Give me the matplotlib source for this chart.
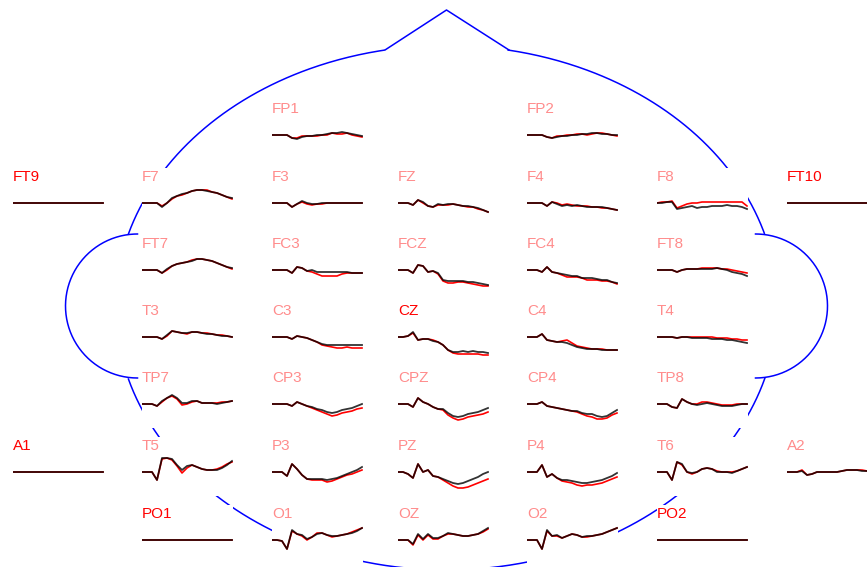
import numpy as np
import matplotlib.pyplot as plt

# sample times (ms) for every averaged trace
times = np.arange(-100, 801, 50)

# amplitudes (uV, positive up), condition 1 = black, condition 2 = red
flat = [0, 0, 0, 0, 0, 0, 0, 0, 0, 0, 0, 0, 0, 0, 0, 0, 0, 0, 0]

fp1_k = [0, 0, 0, 0, -3, -4, -2, -1, -1, 0, 0, 1, 2, 2, 3, 2, 1, 0, -1]
fp1_r = [0, 0, 0, 0, -3, -3, -1, -1, -1, -1, 0, 0, 2, 1, 1, 2, 0, -1, -2]
fp2_k = [0, 0, 0, 0, -2, -3, -2, -1, -1, 0, 0, 1, 1, 2, 2, 1, 1, 0, 0]
fp2_r = [0, 0, 0, 0, -2, -3, -1, -1, 0, 0, 1, 1, 0, 1, 2, 2, 1, 0, -1]

f7_k = [0, 0, 0, 0, -4, 0, 5, 7, 9, 10, 12, 13, 13, 12, 11, 10, 8, 6, 5]
f7_r = [0, 0, 0, 0, -3, 0, 4, 7, 8, 10, 12, 13, 13, 13, 11, 10, 8, 6, 4]
f3_k = [0, 0, 0, 0, -4, -1, 2, 0, -1, -1, 0, 0, 0, 0, 0, 0, 0, 0, 0]
f3_r = [0, 0, 0, 0, -4, -1, 1, -1, -2, -1, -1, 0, 0, 0, 0, 0, 0, 0, 0]
fz_k = [0, 0, 0, -2, 3, 1, -3, -4, -1, -2, -1, -1, -2, -3, -3, -4, -5, -7, -9]
fz_r = [0, 0, 0, -2, 3, 0, -3, -4, -2, -2, -2, -1, -2, -3, -4, -4, -6, -7, -9]
f4_k = [0, 0, 0, 0, -3, 1, -1, -3, -2, -3, -2, -3, -4, -4, -4, -4, -5, -6, -7]
f4_r = [0, 0, 0, 0, -3, 1, 0, -2, -1, -2, -3, -3, -3, -4, -4, -5, -5, -6, -7]
f8_k = [0, 0, 1, 1, -6, -5, -4, -3, -5, -4, -4, -3, -3, -3, -2, -3, -3, -4, -6]
f8_r = [0, 1, 1, 2, -5, -3, -1, 0, 0, 1, 1, 1, 1, 1, 1, 1, 1, 1, -3]

ft7_k = [0, 0, 0, 0, -3, 1, 4, 6, 7, 8, 9, 11, 11, 10, 9, 7, 5, 3, 2]
ft7_r = [0, 0, 0, 0, -3, 0, 4, 6, 7, 8, 10, 11, 11, 10, 9, 7, 5, 3, 1]
fc3_k = [0, 0, 0, 0, -3, 3, 2, -1, 0, -2, -2, -2, -2, -2, -2, -2, -3, -3, -3]
fc3_r = [0, 0, 0, 0, -3, 3, 2, -1, -2, -4, -6, -6, -6, -6, -4, -3, -3, -3, -3]
fcz_k = [0, 0, 0, -3, 5, 4, -2, -1, -3, -10, -11, -11, -11, -11, -12, -12, -13, -14, -15]
fcz_r = [0, 0, 0, -3, 5, 4, -2, -1, -4, -11, -13, -13, -12, -12, -13, -14, -15, -16, -16]
fc4_k = [0, 0, 0, -2, 3, -2, -3, -4, -5, -6, -6, -8, -8, -8, -9, -10, -10, -12, -13]
fc4_r = [0, 0, 0, -2, 3, -2, -3, -5, -7, -7, -7, -8, -10, -10, -10, -11, -11, -12, -14]
ft8_k = [0, 0, 0, 0, -2, 0, 1, 1, 1, 1, 1, 1, 2, 1, 0, -2, -3, -4, -6]
ft8_r = [0, 0, 0, 0, -2, 0, 1, 1, 1, 2, 2, 2, 2, 1, 1, 0, -1, -2, -3]

t3_k = [0, 0, 0, 0, -2, 2, 6, 5, 4, 4, 5, 5, 4, 3, 3, 2, 1, 1, 0]
t3_r = [0, 0, 0, 0, -2, 1, 6, 5, 4, 3, 5, 5, 4, 4, 3, 2, 2, 1, 0]
c3_k = [0, 0, 0, 0, -2, 1, 0, -1, -3, -5, -7, -8, -8, -8, -8, -8, -8, -8, -8]
c3_r = [0, 0, 0, 0, -2, 1, 0, -1, -3, -5, -8, -9, -10, -11, -11, -10, -11, -11, -11]
cz_k = [0, 0, 1, 5, -3, -2, -2, -4, -5, -8, -13, -15, -15, -14, -15, -14, -15, -15, -16]
cz_r = [0, 0, 1, 4, -3, -2, -2, -3, -5, -8, -13, -16, -17, -17, -17, -17, -17, -18, -18]
c4_k = [0, 0, 0, 3, -3, -4, -5, -5, -6, -8, -10, -11, -12, -12, -12, -13, -13, -13, -13]
c4_r = [0, 0, 0, 3, -3, -4, -5, -4, -3, -6, -9, -10, -11, -12, -12, -12, -13, -13, -13]
t4_k = [0, 0, 0, 0, -1, 0, 0, -1, -1, -1, -1, -2, -2, -2, -3, -3, -4, -5, -6]
t4_r = [0, 0, 0, 0, -1, 0, 0, 0, 0, 0, 0, 0, -1, -1, -1, -2, -2, -3, -3]

tp7_k = [0, 0, 0, -2, 3, 6, 9, 6, 1, 1, 3, 3, 1, 1, 1, 0, 1, 2, 3]
tp7_r = [0, 0, 0, -2, 2, 6, 8, 5, -1, 0, 2, 3, 1, 1, 1, 1, 2, 2, 3]
cp3_k = [0, 0, 0, 0, -2, 2, 0, -2, -3, -5, -6, -8, -9, -8, -6, -5, -4, -2, 0]
cp3_r = [0, 0, 0, 0, -2, 2, 0, -2, -4, -6, -8, -10, -12, -11, -9, -8, -7, -5, -4]
cpz_k = [0, 0, 0, -3, 6, 2, 0, -3, -5, -5, -9, -12, -13, -12, -10, -9, -8, -6, -4]
cpz_r = [0, 0, 0, -3, 6, 2, 0, -3, -5, -6, -11, -14, -16, -15, -13, -12, -11, -10, -8]
cp4_k = [0, 0, 0, 2, -2, -3, -4, -5, -6, -7, -7, -9, -10, -10, -12, -13, -12, -9, -6]
cp4_r = [0, 0, 0, 2, -2, -3, -4, -5, -6, -7, -8, -10, -12, -13, -15, -15, -14, -11, -9]
tp8_k = [0, 0, 0, -3, -4, 5, 2, 0, -1, 0, 1, 0, -1, -2, -2, -2, -1, 0, 0]
tp8_r = [0, 0, 0, -3, -4, 5, 2, 0, 0, 2, 2, 1, 0, -1, -1, -1, 0, 0, 0]

t5_k = [0, 0, 0, -8, 14, 14, 13, 7, 2, 6, 7, 5, 3, 2, 2, 2, 4, 7, 11]
t5_r = [0, 0, 0, -8, 13, 14, 12, 6, -1, 4, 7, 5, 3, 2, 2, 3, 5, 8, 10]
p3_k = [0, 0, 0, -4, 8, 3, -3, -7, -7, -7, -7, -8, -7, -6, -4, -2, 0, 2, 5]
p3_r = [0, 0, 0, -4, 8, 3, -3, -7, -8, -8, -8, -10, -9, -7, -5, -3, -2, 0, 2]
pz_k = [0, 0, -2, -6, 8, 0, 2, -4, -5, -7, -9, -11, -12, -11, -9, -7, -5, -2, 0]
pz_r = [0, 0, -2, -6, 8, 0, 2, -4, -5, -8, -11, -14, -16, -16, -15, -13, -11, -9, -7]
p4_k = [0, 0, 0, 7, -5, -2, -6, -8, -8, -9, -10, -11, -11, -10, -9, -8, -6, -4, -1]
p4_r = [0, 0, 0, 7, -5, -2, -6, -9, -10, -11, -13, -14, -13, -13, -12, -11, -9, -7, -5]
t6_k = [0, 0, 0, -8, 10, 8, 0, -1, 0, 3, 4, 3, 0, 0, 0, -1, 1, 3, 5]
t6_r = [0, 0, 0, -8, 10, 7, 0, -2, 0, 3, 4, 3, 1, 0, 0, 0, 1, 3, 5]
a2_k = [0, 0, 0, 1, -3, -2, 0, 0, 0, 0, 0, 1, 2, 2, 2, 1, 1, 1, 1]
a2_r = [0, 0, 0, 2, -3, -2, 0, 0, 0, 0, 0, 1, 2, 2, 2, 2, 1, 1, 1]

o1_k = [0, 0, -1, -9, 10, 6, 5, 1, 3, 6, 7, 5, 4, 4, 5, 6, 7, 9, 12]
o1_r = [0, 0, -1, -9, 9, 6, 4, 0, 3, 7, 7, 5, 3, 4, 5, 6, 8, 10, 12]
oz_k = [0, 0, 0, -4, 6, 1, 6, 2, 2, 4, 7, 6, 5, 4, 4, 5, 6, 9, 12]
oz_r = [0, 0, 0, -5, 5, 0, 5, 1, 1, 4, 6, 6, 5, 4, 4, 5, 6, 8, 11]
o2_k = [0, 0, 0, -9, 10, 4, 5, 2, 4, 6, 5, 3, 4, 4, 5, 6, 8, 10, 12]
o2_r = [0, 0, 0, -9, 9, 4, 4, 2, 4, 6, 5, 3, 3, 4, 5, 6, 8, 10, 12]

# channel name, row, column, black trace, red trace
montage = [
    ('FP1', 0, 2, fp1_k, fp1_r), ('FP2', 0, 4, fp2_k, fp2_r),
    ('FT9', 1, 0, flat, flat), ('F7', 1, 1, f7_k, f7_r), ('F3', 1, 2, f3_k, f3_r),
    ('FZ', 1, 3, fz_k, fz_r), ('F4', 1, 4, f4_k, f4_r), ('F8', 1, 5, f8_k, f8_r),
    ('FT10', 1, 6, flat, flat),
    ('FT7', 2, 1, ft7_k, ft7_r), ('FC3', 2, 2, fc3_k, fc3_r), ('FCZ', 2, 3, fcz_k, fcz_r),
    ('FC4', 2, 4, fc4_k, fc4_r), ('FT8', 2, 5, ft8_k, ft8_r),
    ('T3', 3, 1, t3_k, t3_r), ('C3', 3, 2, c3_k, c3_r), ('CZ', 3, 3, cz_k, cz_r),
    ('C4', 3, 4, c4_k, c4_r), ('T4', 3, 5, t4_k, t4_r),
    ('TP7', 4, 1, tp7_k, tp7_r), ('CP3', 4, 2, cp3_k, cp3_r), ('CPZ', 4, 3, cpz_k, cpz_r),
    ('CP4', 4, 4, cp4_k, cp4_r), ('TP8', 4, 5, tp8_k, tp8_r),
    ('A1', 5, 0, flat, flat), ('T5', 5, 1, t5_k, t5_r), ('P3', 5, 2, p3_k, p3_r),
    ('PZ', 5, 3, pz_k, pz_r), ('P4', 5, 4, p4_k, p4_r), ('T6', 5, 5, t6_k, t6_r),
    ('A2', 5, 6, a2_k, a2_r),
    ('PO1', 6, 1, flat, flat), ('O1', 6, 2, o1_k, o1_r), ('OZ', 6, 3, oz_k, oz_r),
    ('O2', 6, 4, o2_k, o2_r), ('PO2', 6, 5, flat, flat),
]
marked = ['FT9', 'FT10', 'A1', 'CZ', 'PO1', 'PO2']

W, H = 867, 567
col_x = [13, 142, 272, 398, 527, 657, 787]
row_y = [135, 203, 270, 337, 404, 472, 540]
ax_w, above, below = 91, 35, 24

fig = plt.figure(figsize=(W / 100, H / 100), dpi=100)
plt.rcParams['font.family'] = ['Liberation Sans', 'DejaVu Sans']

# head outline in pixel space, behind the channel axes
bg = fig.add_axes([0, 0, 1, 1], zorder=0)
bg.set_xlim(0, W)
bg.set_ylim(H, 0)
bg.axis('off')
cx, cy, rx, ry_top, ry_bot = 446.5, 306, 331, 260.5, 264
ear_r, ear_dx = 72, 309
th = np.linspace(0, 2 * np.pi, 1200)
hx = cx + rx * np.cos(th)
hy = cy + np.where(np.sin(th) < 0, ry_top, ry_bot) * np.sin(th)
hy = np.where(np.abs(hy - cy) < ear_r, np.nan, hy)
nose = np.abs(hx - cx) < 61.5
hy = np.where(nose & (hy < cy), np.nan, hy)
bg.plot(hx, hy, color='blue', lw=1.1)
bg.plot([cx - 61.5, cx, cx + 62.5], [50, 10, 50], color='blue', lw=1.1)
ea = np.linspace(np.pi / 2, 3 * np.pi / 2, 200)
bg.plot(cx - ear_dx + ear_r * np.cos(ea), cy + ear_r * np.sin(ea), color='blue', lw=1.1)
bg.plot(cx + ear_dx - ear_r * np.cos(ea), cy + ear_r * np.sin(ea), color='blue', lw=1.1)

for name, r, c, k, rd in montage:
    left = col_x[c]
    top = row_y[r] - above
    ax = fig.add_axes([left / W, 1 - (top + above + below) / H, ax_w / W, (above + below) / H],
                      zorder=1)
    ax.plot(times, rd, color='red', lw=1.2)
    ax.plot(times, k, color='black', lw=1.3, alpha=0.8)
    ax.set_xlim(times[0], times[-1] + 10)
    ax.set_ylim(-below, above)
    ax.set_xticks([])
    ax.set_yticks([])
    for s in ax.spines.values():
        s.set_visible(False)
    ax.text(times[0], 22, name, fontsize=11, va='baseline', ha='left',
            color='#ff0000' if name in marked else '#ff8c8c')

fig.savefig('out.png', dpi=100, facecolor='white')
